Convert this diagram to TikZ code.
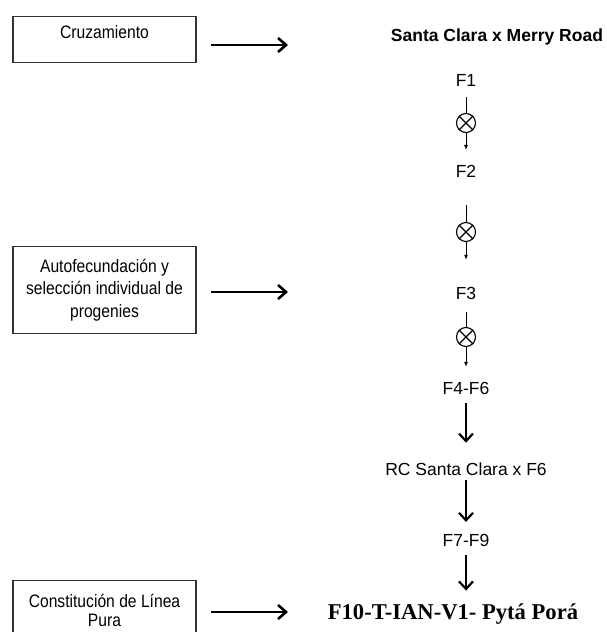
\documentclass[tikz,border=0pt]{standalone}
\usepackage{fontspec}
\setmainfont{Liberation Sans}
\newfontfamily\boxfont{Liberation Sans}[FakeStretch=0.87]
\newfontfamily\titlefont{Liberation Serif}
\usetikzlibrary{arrows.meta}

\begin{document}
\begin{tikzpicture}[x=1pt,y=-1pt,
  box/.style = {draw=black!80,line width=1.2pt,minimum width=183pt,inner sep=0pt,align=center,font=\boxfont\fontsize{18}{22.5}\selectfont},
  gen/.style = {inner sep=1pt,font=\fontsize{17.5}{20}\selectfont},
  self/.style = {circle,draw,line width=1.1pt,minimum size=19pt,inner sep=0pt},
  small/.style = {-{Latex[length=5pt,width=4pt]},line width=1pt},
  stepto/.style = {-{Straight Barb[length=7.5pt,width=14pt]},line width=2.2pt},
  goto/.style = {-{Straight Barb[length=8pt,width=14pt]},line width=2.6pt}]

        % Page
        \useasboundingbox (0,0) rectangle (606,632);

        % Stages on the left
        \node [box,minimum height=46pt,text height=17pt,text depth=20pt,anchor=north] (cruz) at (104.5,16) {Cruzamiento};
        \node [box,minimum height=87pt,anchor=north] (auto) at (104.5,246) {Autofecundación y\\selección individual de\\progenies};
        \node [box,minimum height=60pt,anchor=north,font=\boxfont\fontsize{18}{18.5}\selectfont] (pura) at (104.5,580) {Constitución de Línea\\Pura};

        % Arrows from the stages
        \coordinate (cruz out) at (211,45);
        \coordinate (cruz in) at (288,45);
        \coordinate (auto out) at (211,292);
        \coordinate (auto in) at (288,292);
        \coordinate (pura out) at (211,612);
        \coordinate (pura in) at (288,612);
        \draw[goto] (cruz out) -- (cruz in);
        \draw[goto] (auto out) -- (auto in);
        \draw[goto] (pura out) -- (pura in);

        % Generations
        \node [gen,font=\bfseries\fontsize{17.5}{20}\selectfont,anchor=base] (cross) at (497,41.3) {Santa Clara x Merry Road};
        \node [gen] (f1) at (466,80) {F1};
        \node [self] (x1) at (466,123) {};
        \node [gen] (f2) at (466,171) {F2};
        \node [self] (x2) at (466,232) {};
        \node [gen] (f3) at (466,293) {F3};
        \node [self] (x3) at (466,337) {};
        \node [gen] (f46) at (466,388) {F4-F6};
        \node [gen] (rc) at (466,469) {RC Santa Clara x F6};
        \node [gen] (f79) at (466,540) {F7-F9};
        \node [anchor=base,font=\titlefont\bfseries\fontsize{22.6}{24}\selectfont] (line) at (453,619.3) {F10-T-IAN-V1- Pytá Porá};

        % Selfing marks
        \foreach \c in {x1,x2,x3}
          \draw[line width=1.1pt] (\c.north east) -- (\c.south west) (\c.north west) -- (\c.south east);

        % Selfing steps
        \draw[line width=1pt,shorten <=9.7pt] (f1) -- (x1);
        \draw[small,shorten >=13.7pt] (x1) -- (f2);
        \draw[line width=1pt,shorten <=26.7pt] (f2) -- (x2);
        \draw[small,shorten >=25.7pt] (x2) -- (f3);
        \draw[line width=1pt,shorten <=11.7pt] (f3) -- (x3);
        \draw[small,shorten >=13.7pt] (x3) -- (f46);

        % Later steps
        \draw[stepto,shorten <=7.7pt,shorten >=18.7pt] (f46) -- (rc);
        \draw[stepto,shorten <=3.7pt,shorten >=10.7pt] (rc) -- (f79);
        \draw[stepto,shorten <=7.7pt,shorten >=9.5pt] (f79) -- (f79 |- line.north);

    \end{tikzpicture}
\end{document}
